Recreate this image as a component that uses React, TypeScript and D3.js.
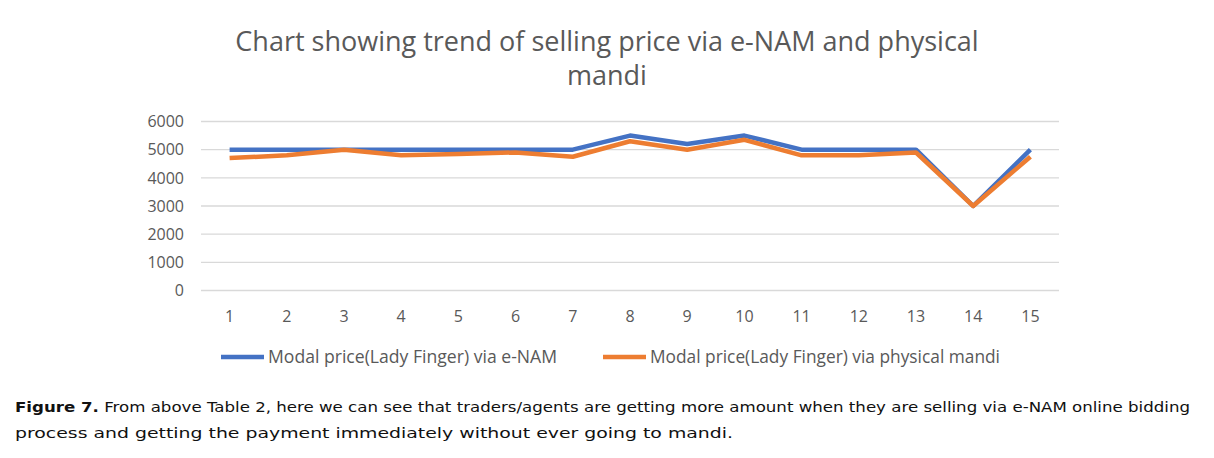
import { useEffect, useRef } from "react"
import * as d3 from "d3"

const categories = ["1", "2", "3", "4", "5", "6", "7", "8", "9", "10", "11", "12", "13", "14", "15"]
const enamPrices = [5000, 5000, 5000, 5000, 5000, 5000, 5000, 5500, 5200, 5500, 5000, 5000, 5000, 3000, 5000]
const mandiPrices = [4700, 4800, 5000, 4800, 4850, 4900, 4750, 5300, 5000, 5350, 4800, 4800, 4900, 3000, 4750]
const yTicks = [0, 1000, 2000, 3000, 4000, 5000, 6000]
const seriesNames = ["Modal price(Lady Finger) via e-NAM", "Modal price(Lady Finger) via physical mandi"]
const seriesColors = ["#4472C4", "#ED7D31"]

export default function App() {
  const svgRef = useRef<SVGSVGElement>(null)

  useEffect(() => {
    if (!svgRef.current) return
    const root = d3.select(svgRef.current)
    root.selectAll("*").remove()

    const width = 1214
    const left = 201
    const right = 1059
    const top = 121.5
    const bottom = 290.5

    const x = d3.scaleBand().domain(categories).range([left, right])
    const y = d3.scaleLinear().domain([0, 6000]).range([bottom, top])
    const textColor = "#595959"

    // Title
    const title = root
      .append("text")
      .attr("text-anchor", "middle")
      .style("font-family", "'Open Sans', sans-serif")
      .style("font-size", "27px")
      .style("fill", textColor)
    title.append("tspan").attr("x", width / 2).attr("y", 51).text("Chart showing trend of selling price via e-NAM and physical")
    title.append("tspan").attr("x", width / 2).attr("y", 85).text("mandi")

    // Gridlines
    root
      .append("g")
      .selectAll("line")
      .data(yTicks)
      .enter()
      .append("line")
      .attr("x1", left)
      .attr("x2", right)
      .attr("y1", (d) => y(d))
      .attr("y2", (d) => y(d))
      .attr("stroke", "#d9d9d9")
      .attr("stroke-width", 1.3)

    // Y labels
    root
      .append("g")
      .selectAll("text")
      .data(yTicks)
      .enter()
      .append("text")
      .attr("x", 184)
      .attr("y", (d) => y(d))
      .attr("dy", "0.36em")
      .attr("text-anchor", "end")
      .style("font-family", "'Open Sans', sans-serif")
      .style("font-size", "16px")
      .style("fill", textColor)
      .text((d) => d)

    // X labels
    root
      .append("g")
      .selectAll("text")
      .data(categories)
      .enter()
      .append("text")
      .attr("x", (d) => (x(d) as number) + x.bandwidth() / 2)
      .attr("y", 322)
      .attr("text-anchor", "middle")
      .style("font-family", "'Open Sans', sans-serif")
      .style("font-size", "16px")
      .style("fill", textColor)
      .text((d) => d)

    // Lines
    const line = d3
      .line<number>()
      .x((_, i) => (x(categories[i]) as number) + x.bandwidth() / 2)
      .y((d) => y(d))

    ;[enamPrices, mandiPrices].forEach((values, i) => {
      root
        .append("path")
        .attr("d", line(values) as string)
        .attr("fill", "none")
        .attr("stroke", seriesColors[i])
        .attr("stroke-width", 4.5)
        .attr("stroke-linejoin", "round")
    })

    // Legend
    const legendItems = [
      { x1: 221, x2: 264, tx: 268, tw: 289 },
      { x1: 603, x2: 646, tx: 650, tw: 350 },
    ]
    legendItems.forEach((item, i) => {
      root
        .append("line")
        .attr("x1", item.x1)
        .attr("x2", item.x2)
        .attr("y1", 357)
        .attr("y2", 357)
        .attr("stroke", seriesColors[i])
        .attr("stroke-width", 4.5)
      root
        .append("text")
        .attr("x", item.tx)
        .attr("y", 363)
        .attr("textLength", item.tw)
        .attr("lengthAdjust", "spacingAndGlyphs")
        .style("font-family", "'Open Sans', sans-serif")
        .style("font-size", "17.5px")
        .style("fill", textColor)
        .text(seriesNames[i])
    })

    // Caption
    const capFont = "'DejaVu Sans', sans-serif"
    const cap1 = root
      .append("text")
      .attr("x", 15)
      .attr("y", 412)
      .attr("textLength", 1175)
      .attr("lengthAdjust", "spacingAndGlyphs")
      .style("font-family", capFont)
      .style("font-size", "14.5px")
      .style("fill", "#111")
    cap1.append("tspan").style("font-weight", "bold").text("Figure 7.")
    cap1
      .append("tspan")
      .text(
        " From above Table 2, here we can see that traders/agents are getting more amount when they are selling via e-NAM online bidding"
      )
    root
      .append("text")
      .attr("x", 15)
      .attr("y", 437.5)
      .attr("textLength", 718)
      .attr("lengthAdjust", "spacingAndGlyphs")
      .style("font-family", capFont)
      .style("font-size", "14.5px")
      .style("fill", "#111")
      .text("process and getting the payment immediately without ever going to mandi.")
  }, [])

  return (
    <svg
      ref={svgRef}
      width={1214}
      height={458}
      style={{ position: "absolute", left: 0, top: 0, background: "#fff" }}
    ></svg>
  )
}
